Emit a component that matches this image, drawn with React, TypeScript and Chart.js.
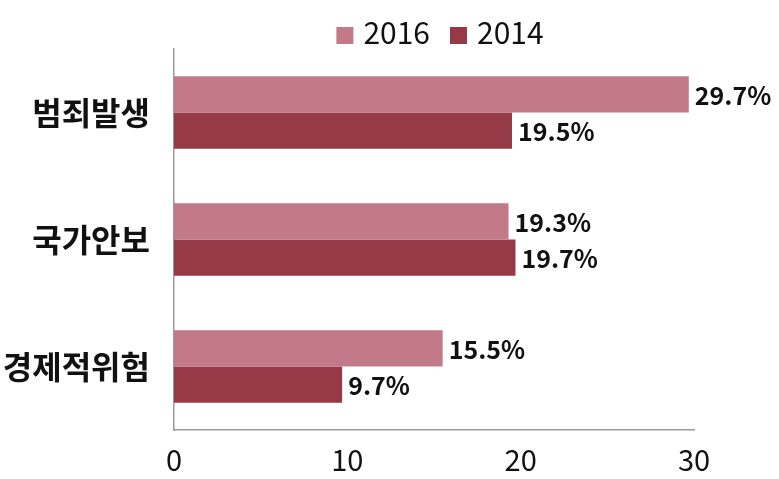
import React, { useEffect, useRef } from "react";
import { Chart, registerables } from "chart.js";

Chart.register(...registerables);

const categories = ["범죄발생", "국가안보", "경제적위험"];
const seriesNames = ["2016", "2014"];
const values2016 = [29.7, 19.3, 15.5];
const values2014 = [19.5, 19.7, 9.7];
const xTicks = [0, 10, 20, 30];

const FONT = "'Noto Sans CJK KR', 'Noto Sans', sans-serif";

const labelPlugin = {
  id: "valueLabels",
  afterDatasetsDraw(chart: any) {
    const ctx = chart.ctx;
    ctx.save();
    ctx.font = `bold 25px ${FONT}`;
    ctx.fillStyle = "#111";
    ctx.textAlign = "left";
    ctx.textBaseline = "middle";
    chart.data.datasets.forEach((ds: any, i: number) => {
      const meta = chart.getDatasetMeta(i);
      meta.data.forEach((el: any, j: number) => {
        ctx.fillText(`${ds.data[j].toFixed(1)}%`, el.x + 6, el.y + 1);
      });
    });
    ctx.restore();
  },
};

const legendPlugin = {
  id: "customLegend",
  afterDraw(chart: any) {
    const ctx = chart.ctx;
    const ca = chart.chartArea;
    ctx.save();
    ctx.font = `30px ${FONT}`;
    const box = 17;
    const gapText = 10;
    const gapItem = 20;
    const items = chart.data.datasets.map((ds: any) => ({
      text: ds.label,
      color: ds.backgroundColor,
      w: ctx.measureText(ds.label).width,
    }));
    let total = 0;
    items.forEach((it: any, i: number) => {
      total += box + gapText + it.w + (i < items.length - 1 ? gapItem : 0);
    });
    let x = (ca.left + ca.right) / 2 + 6 - total / 2;
    const textY = 33;
    items.forEach((it: any) => {
      ctx.fillStyle = it.color;
      ctx.fillRect(x, 27, box, box);
      x += box + gapText;
      ctx.fillStyle = "#111";
      ctx.textAlign = "left";
      ctx.textBaseline = "middle";
      ctx.fillText(it.text, x, textY);
      x += it.w + gapItem;
    });
    ctx.restore();
  },
};

export default function App() {
  const ref = useRef<HTMLCanvasElement>(null);
  useEffect(() => {
    document.body.style.margin = "0";
    const chart = new Chart(ref.current!, {
      type: "bar",
      data: {
        labels: categories,
        datasets: [
          { label: seriesNames[0], data: values2016, backgroundColor: "#C27A89" },
          { label: seriesNames[1], data: values2014, backgroundColor: "#973A48" },
        ],
      },
      options: {
        indexAxis: "y",
        animation: false,
        responsive: false,
        layout: { padding: { left: 0, right: 85, top: 49, bottom: 0 } },
        datasets: { bar: { barPercentage: 1, categoryPercentage: 0.57 } },
        plugins: {
          legend: { display: false },
          tooltip: { enabled: false },
        },
        scales: {
          x: {
            min: 0,
            max: 30,
            afterBuildTicks: (s: any) => {
              s.ticks = xTicks.map((v) => ({ value: v }));
            },
            afterFit: (s: any) => {
              s.height = 49;
            },
            grid: { display: false, drawTicks: false },
            border: { display: true, color: "#999", width: 1.5 },
            ticks: { color: "#111", font: { family: FONT, size: 29 }, padding: 13 },
          },
          y: {
            afterFit: (s: any) => {
              s.width = 174;
            },
            grid: { display: false, drawTicks: false },
            border: { display: true, color: "#999", width: 1.5 },
            ticks: { color: "#111", font: { family: FONT, size: 32, weight: "bold" }, padding: 24 },
          },
        },
      },
      plugins: [labelPlugin, legendPlugin],
    } as any);
    return () => chart.destroy();
  }, []);
  return <canvas ref={ref} width={779} height={479} style={{ display: "block" }} />;
}
